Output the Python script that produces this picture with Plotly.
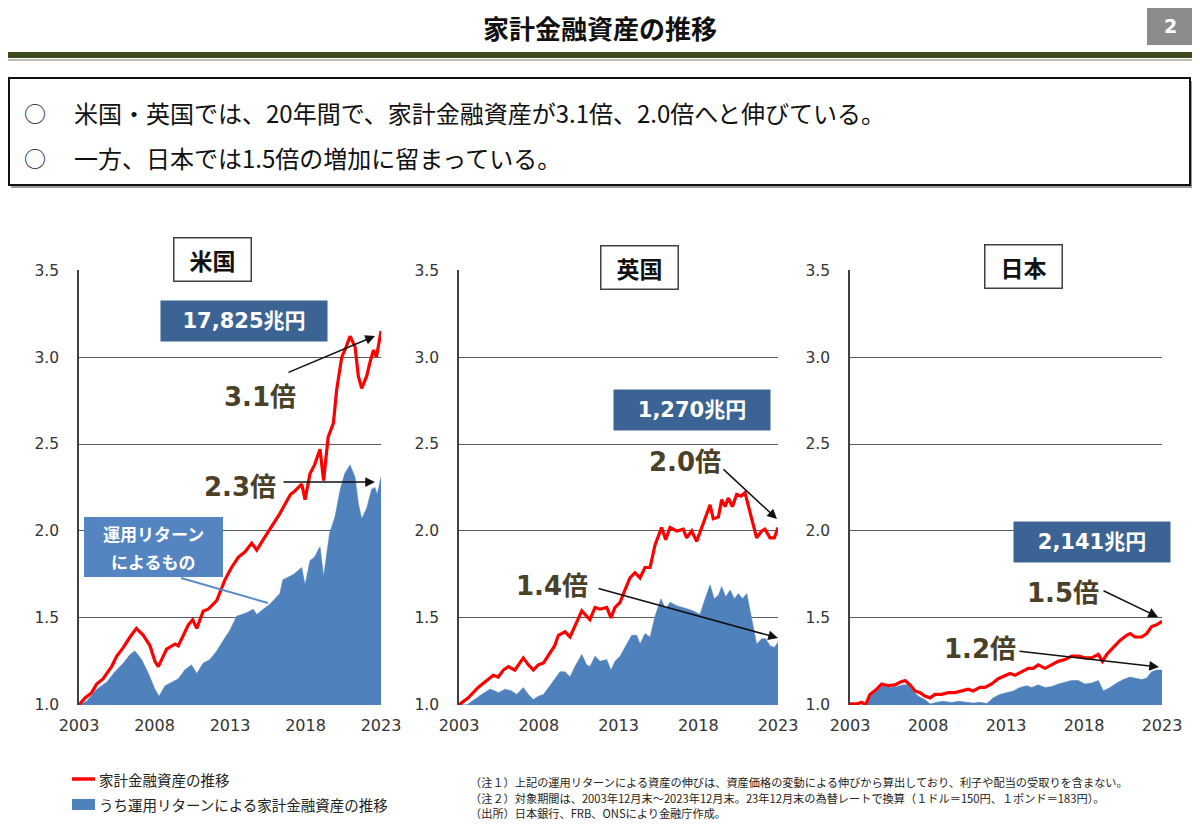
import plotly.graph_objects as go

# the page body adds an 8px margin, so the figure is sized to fit the window inside it
OFF = 8
W, H = 1200 - 2 * OFF, 828 - 2 * OFF

# ---- data ----
us_red_x = [2003.0, 2003.4, 2003.84, 2004.17, 2004.6, 2005.16, 2005.5, 2005.94, 2006.38, 2006.8,
            2007.26, 2007.7, 2008.03, 2008.25, 2008.58, 2008.8, 2009.36, 2009.58, 2010.24, 2010.53,
            2010.8, 2011.23, 2011.56, 2012.12, 2012.67, 2013.1, 2013.56, 2014.0, 2014.44, 2014.77,
            2015.2, 2015.65, 2016.3, 2017.0, 2017.3, 2017.75, 2017.97, 2018.3, 2018.6, 2018.96,
            2019.2, 2019.5, 2019.85, 2020.06, 2020.4, 2020.7, 2020.95, 2021.28, 2021.5, 2021.72,
            2022.05, 2022.27, 2022.5, 2022.7, 2023.0]
us_red = [1.0, 1.04, 1.07, 1.12, 1.15, 1.22, 1.28, 1.33, 1.39, 1.44,
          1.40, 1.34, 1.25, 1.22, 1.28, 1.32, 1.35, 1.34, 1.46, 1.49,
          1.44, 1.54, 1.55, 1.60, 1.72, 1.79, 1.85, 1.88, 1.93, 1.89,
          1.95, 2.01, 2.10, 2.21, 2.23, 2.27, 2.18, 2.33, 2.38, 2.47,
          2.29, 2.54, 2.62, 2.81, 3.00, 3.06, 3.12, 3.06, 2.89, 2.82,
          2.89, 2.97, 3.04, 3.00, 3.15]
us_blue_x = [2003.0, 2003.5, 2004.17, 2004.83, 2005.38, 2005.94, 2006.38, 2006.7, 2007.15, 2007.6,
             2008.03, 2008.3, 2008.7, 2009.13, 2009.58, 2010.0, 2010.45, 2010.8, 2011.23, 2011.67,
             2012.12, 2012.55, 2013.0, 2013.44, 2014.1, 2014.54, 2014.77, 2015.2, 2015.65, 2016.3,
             2016.5, 2017.2, 2017.75, 2017.97, 2018.3, 2018.6, 2018.96, 2019.2, 2019.6, 2019.95,
             2020.3, 2020.6, 2020.95, 2021.28, 2021.5, 2021.72, 2022.05, 2022.38, 2022.6, 2022.75,
             2023.0]
us_blue = [1.0, 1.02, 1.09, 1.13, 1.19, 1.24, 1.29, 1.31, 1.26, 1.18,
           1.09, 1.05, 1.11, 1.13, 1.15, 1.20, 1.23, 1.18, 1.24, 1.26,
           1.31, 1.37, 1.43, 1.51, 1.53, 1.55, 1.52, 1.55, 1.58, 1.64,
           1.72, 1.75, 1.79, 1.69, 1.83, 1.85, 1.91, 1.74, 1.99, 2.08,
           2.24, 2.33, 2.38, 2.31, 2.16, 2.07, 2.13, 2.24, 2.25, 2.21,
           2.31]

uk_red_x = [2003.0, 2003.58, 2004.2, 2004.84, 2005.15, 2005.46, 2005.78, 2006.1, 2006.5, 2007.03,
            2007.35, 2007.66, 2007.97, 2008.29, 2008.7, 2009.0, 2009.23, 2009.65, 2009.96, 2010.27,
            2010.7, 2011.0, 2011.21, 2011.53, 2011.84, 2012.26, 2012.53, 2012.78, 2013.1, 2013.4,
            2013.72, 2014.03, 2014.35, 2014.66, 2014.98, 2015.29, 2015.7, 2015.96, 2016.23, 2016.65,
            2017.06, 2017.27, 2017.59, 2017.9, 2018.32, 2018.74, 2018.94, 2019.26, 2019.47, 2019.68,
            2019.88, 2020.14, 2020.41, 2020.68, 2020.93, 2021.24, 2021.66, 2021.98, 2022.18, 2022.5,
            2022.77, 2023.0]
uk_red = [1.0, 1.04, 1.10, 1.15, 1.17, 1.16, 1.20, 1.22, 1.20, 1.27,
          1.23, 1.20, 1.23, 1.24, 1.30, 1.34, 1.40, 1.42, 1.39, 1.45,
          1.54, 1.51, 1.49, 1.56, 1.55, 1.56, 1.50, 1.56, 1.59, 1.66,
          1.73, 1.76, 1.73, 1.79, 1.79, 1.92, 2.02, 1.95, 2.02, 2.00,
          2.01, 1.96, 2.00, 1.94, 2.05, 2.15, 2.07, 2.08, 2.18, 2.14,
          2.19, 2.14, 2.21, 2.20, 2.22, 2.11, 1.96, 2.00, 2.01, 1.96,
          1.96, 2.02]
uk_blue_x = [2003.0, 2003.5, 2004.42, 2004.94, 2005.26, 2005.46, 2005.88, 2006.3, 2006.62, 2007.03,
             2007.35, 2007.66, 2007.97, 2008.29, 2008.7, 2009.0, 2009.33, 2009.65, 2009.96, 2010.27,
             2010.7, 2011.0, 2011.21, 2011.53, 2011.84, 2012.26, 2012.53, 2012.78, 2013.1, 2013.4,
             2013.83, 2014.14, 2014.35, 2014.66, 2014.98, 2015.29, 2015.66, 2015.96, 2016.23, 2016.65,
             2017.06, 2017.38, 2017.7, 2018.11, 2018.43, 2018.74, 2019.0, 2019.26, 2019.47, 2019.72,
             2020.0, 2020.26, 2020.52, 2020.77, 2021.04, 2021.35, 2021.66, 2021.98, 2022.23, 2022.5,
             2022.77, 2023.0]
uk_blue = [1.0, 1.0, 1.06, 1.09, 1.08, 1.07, 1.09, 1.08, 1.06, 1.10,
           1.06, 1.03, 1.05, 1.06, 1.11, 1.15, 1.19, 1.19, 1.16, 1.22,
           1.29, 1.23, 1.22, 1.28, 1.25, 1.26, 1.20, 1.25, 1.28, 1.33,
           1.40, 1.40, 1.35, 1.41, 1.39, 1.51, 1.61, 1.55, 1.59, 1.57,
           1.56, 1.55, 1.54, 1.52, 1.61, 1.69, 1.61, 1.63, 1.68, 1.62,
           1.66, 1.61, 1.64, 1.61, 1.64, 1.49, 1.35, 1.38, 1.38, 1.34,
           1.33, 1.36]

jp_red_x = [2003.0, 2003.43, 2003.75, 2004.0, 2004.28, 2004.71, 2005.03, 2005.46, 2005.88, 2006.2,
            2006.53, 2006.85, 2007.17, 2007.49, 2007.8, 2008.13, 2008.45, 2008.88, 2009.3, 2009.73,
            2010.16, 2010.58, 2010.9, 2011.33, 2011.65, 2012.08, 2012.5, 2012.94, 2013.26, 2013.58,
            2014.0, 2014.43, 2014.75, 2015.07, 2015.5, 2015.93, 2016.35, 2016.78, 2017.21, 2017.64,
            2018.06, 2018.49, 2018.92, 2019.18, 2019.46, 2019.88, 2020.31, 2020.74, 2020.95, 2021.27,
            2021.7, 2022.02, 2022.34, 2022.66, 2023.0]
jp_red = [1.005, 1.005, 1.015, 1.0, 1.06, 1.09, 1.12, 1.11, 1.115, 1.13,
          1.14, 1.115, 1.08, 1.07, 1.05, 1.04, 1.06, 1.06, 1.07, 1.07,
          1.08, 1.09, 1.08, 1.10, 1.10, 1.12, 1.15, 1.17, 1.18, 1.17,
          1.19, 1.21, 1.21, 1.23, 1.21, 1.23, 1.25, 1.26, 1.28, 1.28,
          1.27, 1.27, 1.29, 1.25, 1.29, 1.33, 1.37, 1.40, 1.41, 1.39,
          1.39, 1.41, 1.45, 1.46, 1.48]
jp_blue_x = [2003.0, 2004.0, 2004.4, 2004.8, 2005.14, 2005.56, 2006.0, 2006.42, 2006.74, 2007.06,
             2007.38, 2007.8, 2008.13, 2008.56, 2008.98, 2009.52, 2009.94, 2010.48, 2010.9, 2011.33,
             2011.76, 2012.19, 2012.6, 2013.04, 2013.47, 2013.9, 2014.33, 2014.65, 2015.07, 2015.5,
             2015.93, 2016.35, 2016.78, 2017.21, 2017.64, 2018.06, 2018.49, 2018.92, 2019.24, 2019.67,
             2020.1, 2020.52, 2020.95, 2021.27, 2021.7, 2022.02, 2022.34, 2022.66, 2023.0]
jp_blue = [1.0, 1.0, 1.06, 1.09, 1.115, 1.10, 1.105, 1.115, 1.115, 1.08,
           1.05, 1.03, 1.005, 1.015, 1.02, 1.013, 1.02, 1.015, 1.01, 1.015,
           1.007, 1.04, 1.06, 1.07, 1.08, 1.10, 1.11, 1.10, 1.115, 1.10,
           1.105, 1.12, 1.13, 1.14, 1.14, 1.12, 1.125, 1.14, 1.08, 1.10,
           1.125, 1.145, 1.16, 1.155, 1.145, 1.155, 1.19, 1.20, 1.20]

year_ticks = [2003, 2008, 2013, 2018, 2023]
y_ticks = [1.0, 1.5, 2.0, 2.5, 3.0, 3.5]

countries = ["米国", "英国", "日本"]
totals = ["17,825兆円", "1,270兆円", "2,141兆円"]
# multiplier labels: (total growth, return-driven growth)
mult_total = ["3.1倍", "2.0倍", "1.5倍"]
mult_return = ["2.3倍", "1.4倍", "1.2倍"]

# ---- styling ----
RED = "#FF0000"
BLUE = "#4F81BD"
DARKBLUE = "#3B6494"
OLIVE = "#4A4128"
GRID = "#595959"
JP = "Noto Sans CJK JP"
NUM = "DejaVu Sans, Noto Sans CJK JP"

# positions below are page pixels (as measured on the reference)
def px(x):
    return (x - OFF) / W

def py(y):
    return 1 - (y - OFF) / H

def label(x, y, text, size, color="#222222", family=JP, anchor="center", **kw):
    return dict(xref="paper", yref="paper", x=px(x), y=py(y), text=text, showarrow=False,
                xanchor=anchor, yanchor="middle",
                font=dict(family=family, size=size, color=color), **kw)

def box(x0, y0, x1, y1, fill, line=None):
    return dict(type="rect", xref="paper", yref="paper", x0=px(x0), x1=px(x1), y0=py(y1), y1=py(y0),
                fillcolor=fill, line=line or dict(width=0))

# plot area pixel bounds for each panel (left, right), shared top/bottom
panels = [(79, 381), (459, 778), (850, 1162)]
top, bottom = 270, 705

fig = go.Figure()

series = [(us_red_x, us_red, us_blue_x, us_blue),
          (uk_red_x, uk_red, uk_blue_x, uk_blue),
          (jp_red_x, jp_red, jp_blue_x, jp_blue)]

for i, (rx, ry, bx, by) in enumerate(series):
    xa = "x" if i == 0 else "x%d" % (i + 1)
    ya = "y" if i == 0 else "y%d" % (i + 1)
    fig.add_trace(go.Scatter(x=bx, y=by, mode="lines", fill="tozeroy",
                             fillcolor=BLUE, line=dict(color=BLUE, width=0.5),
                             xaxis=xa, yaxis=ya, showlegend=False, hoverinfo="skip"))
    fig.add_trace(go.Scatter(x=rx, y=ry, mode="lines",
                             line=dict(color=RED, width=3.2),
                             xaxis=xa, yaxis=ya, showlegend=False, hoverinfo="skip"))

layout_axes = {}
for i, (l, r) in enumerate(panels):
    sx = "" if i == 0 else str(i + 1)
    layout_axes["xaxis" + sx] = dict(
        domain=[px(l), px(r)], range=[2003, 2023], anchor="y" + sx, automargin=False,
        tickvals=year_ticks, ticktext=[str(t) for t in year_ticks],
        showgrid=False, zeroline=False, showline=False, ticks="",
        ticklabelstandoff=9,
        tickfont=dict(family="DejaVu Sans", size=16, color="#333333"),
    )
    layout_axes["yaxis" + sx] = dict(
        domain=[py(bottom), py(top)], range=[0.999, 3.501], anchor="x" + sx, automargin=False,
        tickvals=y_ticks, ticktext=["%.1f" % v for v in y_ticks],
        showgrid=True, gridcolor=GRID, gridwidth=1.2, zeroline=False,
        showline=True, linecolor="#404040", linewidth=1.5, ticks="",
        ticklabelstandoff=15,
        tickfont=dict(family="DejaVu Sans", size=15.5, color="#333333"),
    )

shapes = []
annotations = []

# header
annotations.append(label(600, 28, "<b>家計金融資産の推移</b>", 26, "#111111"))
shapes.append(box(1147, 5, 1195, 45, "#8C8C8C"))
annotations.append(label(1170, 26, "<b>2</b>", 19, "white", family="DejaVu Sans"))
shapes.append(box(0, 52, 1200, 58, "#3C4A1E"))
shapes.append(dict(type="line", xref="paper", yref="paper", x0=0, x1=1, y0=py(60), y1=py(60),
                   line=dict(color="#A0A890", width=1.5)))

# summary box
shapes.append(box(11, 81, 1193, 188, "#9A9A9A"))
shapes.append(box(9, 78, 1190, 185, "white", dict(color="#111111", width=2)))
bullets = ["米国・英国では、20年間で、家計金融資産が3.1倍、2.0倍へと伸びている。",
           "一方、日本では1.5倍の増加に留まっている。"]
for txt, yy in zip(bullets, [112, 157]):
    annotations.append(label(35, yy, "○", 22))
    annotations.append(label(72, yy, txt, 24, "#111111", anchor="left"))

# panel title boxes
title_boxes = [(212, 260), (639, 267), (1023, 266)]
for name, (cx, cy) in zip(countries, title_boxes):
    annotations.append(label(cx, cy, "<b>%s</b>" % name, 23, "#111111",
                             width=74, height=40, bgcolor="white",
                             bordercolor="#404040", borderwidth=1.5, borderpad=1))

# total value boxes
total_boxes = [(244, 321, 166), (692, 410, 156), (1092, 542, 156)]
for txt, (cx, cy, w) in zip(totals, total_boxes):
    annotations.append(label(cx, cy, "<b>%s</b>" % txt, 21, "white", family=NUM,
                             width=w, height=40, bgcolor=DARKBLUE, borderpad=0))

# multiplier labels and arrows
total_pos = [(260, 397), (685, 462), (1063, 593)]
return_pos = [(240, 487), (552, 586), (980, 649)]
for txt, (cx, cy) in zip(mult_total + mult_return, total_pos + return_pos):
    annotations.append(label(cx, cy, "<b>%s</b>" % txt, 26, OLIVE, family=NUM))

arrows = [((287, 373), (375, 336)), ((282, 482), (375, 482)),
          ((722, 468), (777, 519)), ((597, 588), (778, 638)),
          ((1102, 590), (1158, 617)), ((1018, 651), (1159, 667))]
for (tx, ty), (hx, hy) in arrows:
    annotations.append(dict(xref="paper", yref="paper", x=px(hx), y=py(hy), ax=tx - hx, ay=ty - hy,
                            axref="pixel", ayref="pixel", text="", showarrow=True,
                            arrowhead=2, arrowsize=1.3, arrowwidth=1.5, arrowcolor="#111111"))

# "運用リターンによるもの" callout: box, two text lines, leader line
shapes.append(dict(type="line", xref="paper", yref="paper", x0=px(181), y0=py(578), x1=px(268), y1=py(603),
                   line=dict(color="#5B8BC8", width=2)))
shapes.append(box(84, 517, 223, 577, "#5585C0"))
annotations.append(label(153.5, 533, "<b>運用リターン</b>", 17, "white"))
annotations.append(label(153.5, 561, "<b>によるもの</b>", 17, "white"))

# legend (drawn manually)
shapes.append(dict(type="line", xref="paper", yref="paper", x0=px(72), x1=px(95), y0=py(779), y1=py(779),
                   line=dict(color=RED, width=3.5)))
shapes.append(box(72, 799, 95, 810, BLUE))
annotations.append(label(97, 779, "家計金融資産の推移", 14.5, anchor="left"))
annotations.append(label(97, 804, "うち運用リターンによる家計金融資産の推移", 14.5, anchor="left"))

notes = ["（注１）上記の運用リターンによる資産の伸びは、資産価格の変動による伸びから算出しており、利子や配当の受取りを含まない。",
         "（注２）対象期間は、2003年12月末～2023年12月末。23年12月末の為替レートで換算（１ドル＝150円、１ポンド＝183円）。",
         "（出所）日本銀行、FRB、ONSにより金融庁作成。"]
for txt, yy in zip(notes, [782, 797.5, 812.5]):
    annotations.append(label(468, yy, txt, 11.2, anchor="left"))

fig.update_layout(
    width=W, height=H, margin=dict(l=0, r=0, t=0, b=0),
    paper_bgcolor="white", plot_bgcolor="white",
    showlegend=False, shapes=shapes, annotations=annotations,
    **layout_axes,
)

fig.write_html("out.html")
